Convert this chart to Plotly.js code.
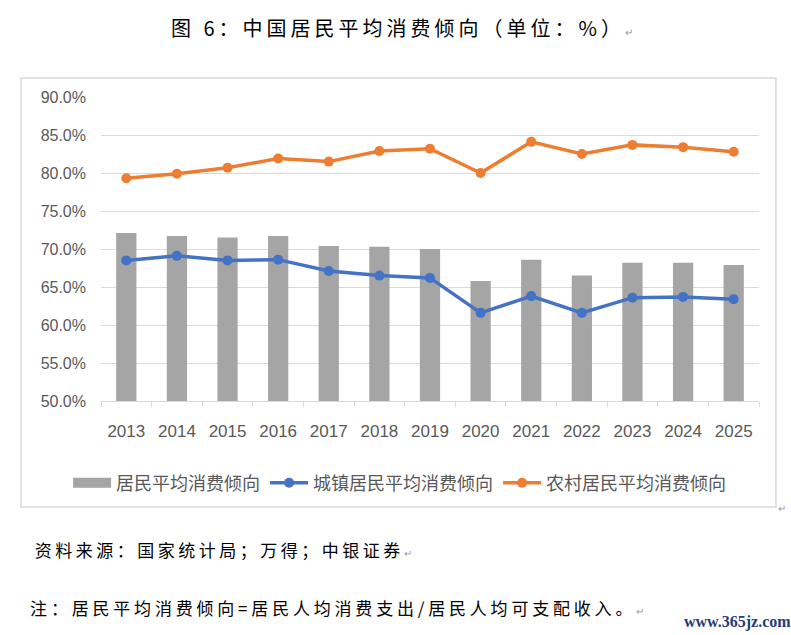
<!DOCTYPE html>
<html>
<head>
<meta charset="utf-8">
<script src="https://cdn.plot.ly/plotly-3.0.1.min.js"></script>
<style>
html,body{margin:0;padding:0;background:#fff;}
#chart{width:791px;height:635px;}
.annotation[data-index="0"] text{letter-spacing:4px;}
.annotation[data-index="1"] text{letter-spacing:3.5px;}
.annotation[data-index="2"] text{letter-spacing:3.8px;}
</style>
</head>
<body>
<div id="chart"></div>
<script>
const years = ['2013','2014','2015','2016','2017','2018','2019','2020','2021','2022','2023','2024','2025'];
const overall = [72.1,71.7,71.5,71.7,70.4,70.3,70.0,65.8,68.6,66.5,68.2,68.2,67.9];
const urban = [68.5,69.1,68.5,68.6,67.1,66.5,66.2,61.6,63.8,61.6,63.6,63.7,63.4];
const rural = [79.3,79.9,80.7,81.9,81.5,82.9,83.2,80.0,84.1,82.5,83.7,83.4,82.8];
const seriesNames = ['居民平均消费倾向','城镇居民平均消费倾向','农村居民平均消费倾向'];
const titleText = '图 6：中国居民平均消费倾向（单位：%）';
const sourceText = '资料来源：国家统计局；万得；中银证券';
const noteText = '注：居民平均消费倾向=居民人均消费支出/居民人均可支配收入。';
const watermark = 'www.365jz.com';

const ret = '<span style="font-size:10px;fill:#999999">↵</span>';
const cjk = '"Noto Sans CJK SC", sans-serif';
const lab = '"Liberation Sans", "Noto Sans CJK SC", sans-serif';

const traces = [
  {type:'bar', x:years, y:overall, name:seriesNames[0], marker:{color:'#a5a5a5'}, showlegend:false},
  {type:'scatter', mode:'lines', x:[null], y:[null], name:seriesNames[0],
   line:{color:'#a5a5a5', width:10}, hoverinfo:'skip'},
  {type:'scatter', mode:'lines+markers', x:years, y:urban, name:seriesNames[1],
   line:{color:'#4472c4', width:3.5}, marker:{color:'#4472c4', size:10}},
  {type:'scatter', mode:'lines+markers', x:years, y:rural, name:seriesNames[2],
   line:{color:'#ed7d31', width:3.5}, marker:{color:'#ed7d31', size:10}}
];

const layout = {
  width:791, height:635,
  margin:{l:101, r:32, t:97, b:234},
  paper_bgcolor:'#ffffff', plot_bgcolor:'#ffffff',
  bargap:0.6,
  showlegend:true,
  legend:{orientation:'h', x:-0.05, xanchor:'left', y:-0.27, yanchor:'middle', itemwidth:38,
          font:{family:cjk, size:18, color:'#595959'}, traceorder:'normal'},
  xaxis:{type:'category', range:[-0.5,12.5], autorange:false, showline:true, linecolor:'#d9d9d9', linewidth:1,
         ticks:'outside', tickson:'boundaries', ticklen:5, tickcolor:'#d9d9d9',
         ticklabelstandoff:15,
         tickfont:{family:lab, size:17, color:'#595959'}, showgrid:false, zeroline:false,
         fixedrange:true},
  yaxis:{range:[50,90], autorange:false, dtick:5, tick0:50, tickformat:'.1f', ticksuffix:'%',
         showgrid:true, gridcolor:'#d9d9d9', gridwidth:1, zeroline:false, showline:false,
         ticks:'', ticklabelstandoff:14,
         tickfont:{family:lab, size:16, color:'#595959'}, fixedrange:true},
  shapes:[
    {type:'rect', xref:'paper', yref:'paper', x0:-0.1216, x1:1.0258, y0:-0.3487, y1:1.0625,
     line:{color:'#d9d9d9', width:1.5}, fillcolor:'rgba(0,0,0,0)', layer:'below'}
  ],
  annotations:[
    {xref:'paper', yref:'paper', x:0.46, y:1.230, xanchor:'center', yanchor:'middle', showarrow:false,
     text:titleText + ret, font:{family:cjk, size:20, color:'#000000'}},
    {xref:'paper', yref:'paper', x:-0.0532, y:-0.490, xanchor:'left', yanchor:'middle', showarrow:false,
     text:sourceText + ret, font:{family:cjk, size:17, color:'#000000'}},
    {xref:'paper', yref:'paper', x:-0.0213, y:-0.678, xanchor:'left', yanchor:'middle', showarrow:false,
     text:noteText + ret, font:{family:cjk, size:17, color:'#000000'}},
    {xref:'paper', yref:'paper', x:1.0258, y:-0.3487, xanchor:'left', yanchor:'middle', showarrow:false,
     text:ret, font:{family:cjk, size:10, color:'#999999'}},
    {xref:'paper', yref:'paper', x:1.052, y:-0.727, xanchor:'right', yanchor:'middle', showarrow:false,
     text:'<b>'+watermark+'</b>', font:{family:'"Liberation Serif", serif', size:16, color:'#1f3d7a'}}
  ]
};

Plotly.newPlot('chart', traces, layout, {displayModeBar:false, staticPlot:true});
</script>
</body>
</html>
